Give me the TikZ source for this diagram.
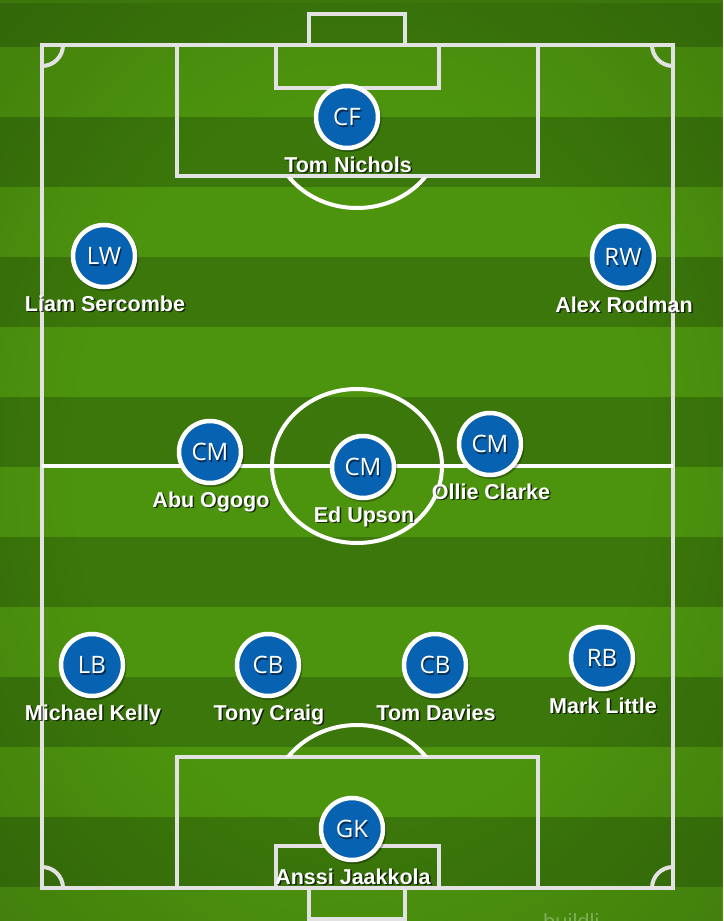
\documentclass[tikz,border=0pt]{standalone}
\usepackage{fontspec}
\setmainfont{Liberation Sans}
\newfontfamily\posfont{Open Sans}
\usetikzlibrary{fadings}
\definecolor{grlight}{RGB}{77,148,14}
\definecolor{grdark}{RGB}{59,119,11}
\definecolor{pline}{RGB}{226,226,226}
\definecolor{pblue}{RGB}{8,98,178}
\pgfdeclareradialshading{vignsh}{\pgfpointorigin}{color(0bp)=(black); color(20bp)=(black); color(48bp)=(white!45!black); color(70bp)=(white)}
\pgfdeclarefading{vign}{\pgfuseshading{vignsh}}
\tikzset{
  pitchline/.style={draw=pline, line width=4pt},
  player/.style={circle, fill=pblue, draw=white, line width=4.5pt, minimum size=62pt, inner sep=0pt},
  postext/.style={anchor=base, inner sep=0pt, text=white, font=\posfont\fontsize{24}{24}\selectfont},
  posshadow/.style={postext, text=black, opacity=0.55},
  nametext/.style={anchor=base, inner sep=0pt, text=white, font=\bfseries\fontsize{21.5}{22}\selectfont},
  nameshadow/.style={nametext, text=black, opacity=0.7},
}
\begin{document}
\begin{tikzpicture}[x=1pt, y=-1pt]
\useasboundingbox (0,0) rectangle (723,921);
\clip (0,0) rectangle (723,921);
% grass stripes
\fill[grdark] (0,0) rectangle (723,921);
\foreach \j in {0,...,6} {
  \fill[grlight] (0,47+140*\j) rectangle (723,117+140*\j);
}
\fill[black, path fading=vign, fill opacity=0.55] (0,0) rectangle (723,921);
% pitch markings
\draw[pitchline] (42,45) rectangle (673,888);
\draw[pitchline] (309,14) rectangle (405,45);
\draw[pitchline] (177,45) rectangle (538,176);
\draw[pitchline] (276,45) rectangle (439,88);
\draw[pitchline] (309,888) rectangle (405,919);
\draw[pitchline] (177,757) rectangle (538,888);
\draw[pitchline] (276,846) rectangle (439,888);
\draw[pitchline, draw=white] (42,466) -- (673,466);
\draw[pitchline, draw=white] (357,466) ellipse [x radius=85, y radius=77];
\begin{scope}
  \clip (0,177) rectangle (723,300);
  \draw[pitchline, draw=white] (357,131) ellipse [x radius=85, y radius=77];
\end{scope}
\begin{scope}
  \clip (0,600) rectangle (723,756);
  \draw[pitchline, draw=white] (357,802) ellipse [x radius=85, y radius=77];
\end{scope}
\begin{scope}
  \clip (42,45) rectangle (673,888);
  \foreach \cx/\cy in {42/45, 673/45, 42/888, 673/888} {
    \draw[pitchline] (\cx,\cy) circle (21);
  }
\end{scope}
% watermark (cut by the lower edge, as in the reference)
\node[anchor=base west, inner sep=0pt, text=white, opacity=0.3, font=\fontsize{22}{22}\selectfont] (wm) at (543,929) {buildli};
% players
\foreach \n/\x/\y/\p/\lab in {
  cf/347/117/CF/Tom Nichols,
  lw/104/256/LW/Liam Sercombe,
  rw/623/257/RW/Alex Rodman,
  cml/210/452/CM/Abu Ogogo,
  cmc/363/467/CM/Ed Upson,
  cmr/490/444/CM/Ollie Clarke,
  lb/92/665/LB/Michael Kelly,
  cbl/268/665/CB/Tony Craig,
  cbr/435/665/CB/Tom Davies,
  rb/602/658/RB/Mark Little,
  gk/352/829/GK/Anssi Jaakkola} {
  \fill[black, opacity=0.3] (\x+1.5,\y+2) circle (33);
  \node[player] (\n) at (\x,\y) {};
  \node[posshadow] at (\x+1.3,\y+10) {\p};
  \node[postext] (\n-pos) at (\x,\y+8.5) {\p};
  \node[nameshadow] at (\x+2.5,\y+56.8) {\lab};
  \node[nametext] (\n-name) at (\x+1,\y+55) {\lab};
}
\end{tikzpicture}
\end{document}
